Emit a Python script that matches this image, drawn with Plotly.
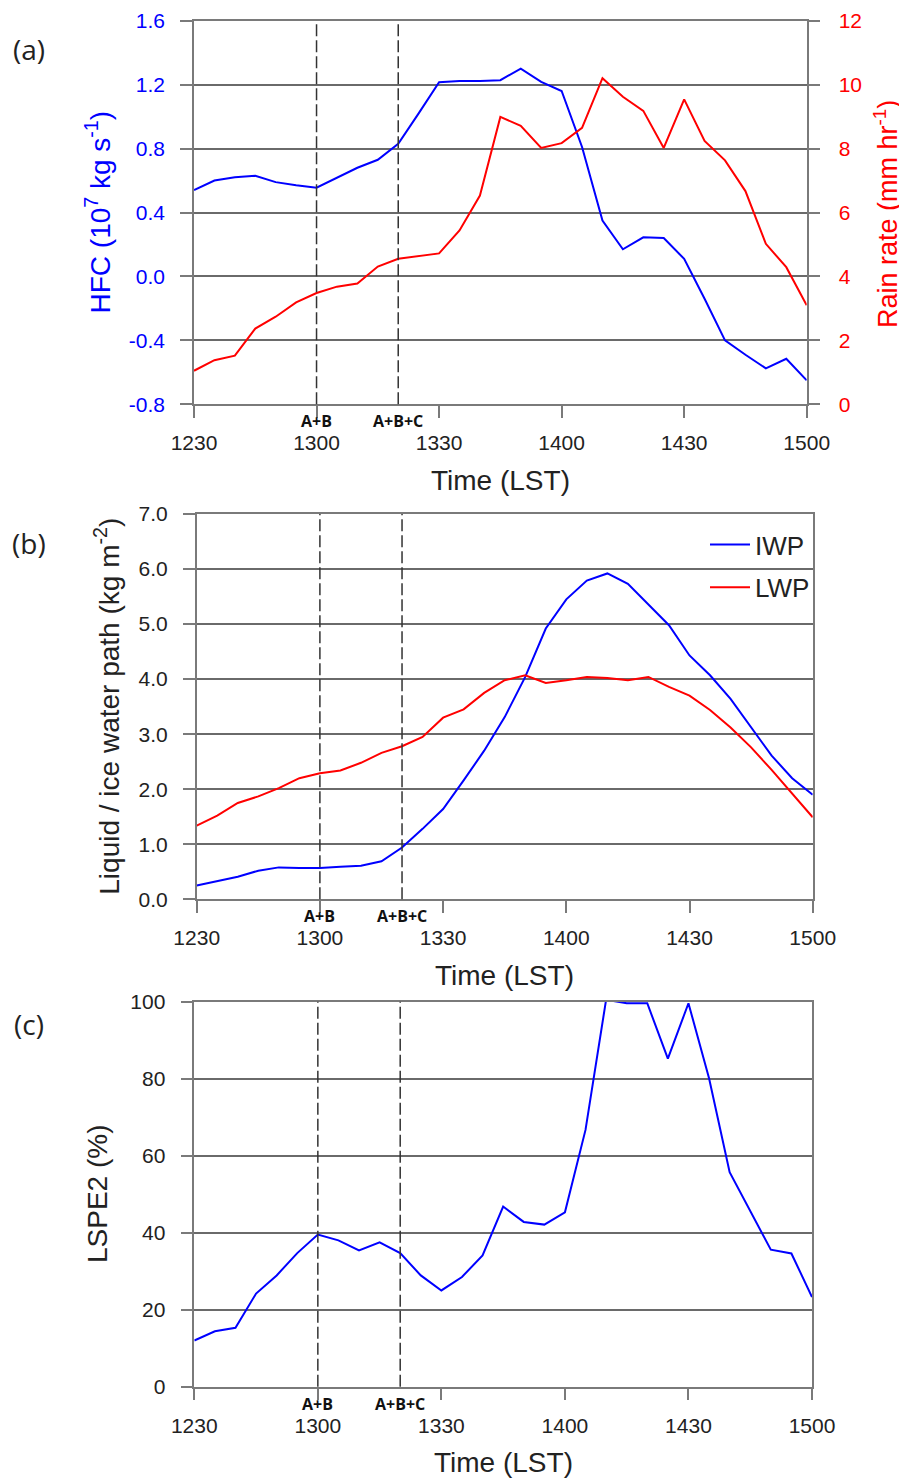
import plotly.graph_objects as go

# ---------------- data ----------------
minutes = [5 * i for i in range(31)]  # minutes after 12:30 LST
time_tickvals = [0, 30, 60, 90, 120, 150]
time_ticktext = ["1230", "1300", "1330", "1400", "1430", "1500"]

hfc = [0.54, 0.60, 0.62, 0.63, 0.59, 0.57, 0.555, 0.615, 0.68, 0.73, 0.83,
       1.02, 1.215, 1.222, 1.222, 1.228, 1.30, 1.217, 1.16, 0.81, 0.35,
       0.17, 0.245, 0.24, 0.11, -0.14, -0.40, -0.49, -0.575, -0.515, -0.65]
rain = [1.05, 1.38, 1.52, 2.37, 2.74, 3.19, 3.48, 3.68, 3.78, 4.31, 4.55,
        4.63, 4.72, 5.44, 6.53, 8.99, 8.71, 8.02, 8.17, 8.65, 10.20,
        9.62, 9.18, 8.02, 9.54, 8.24, 7.63, 6.67, 5.02, 4.29, 3.10]
iwp = [0.25, 0.33, 0.41, 0.52, 0.58, 0.57, 0.57, 0.59, 0.61, 0.69, 0.94,
       1.28, 1.64, 2.16, 2.70, 3.31, 4.04, 4.92, 5.45, 5.79, 5.92,
       5.73, 5.36, 4.98, 4.43, 4.07, 3.64, 3.13, 2.61, 2.20, 1.90]
lwp = [1.34, 1.52, 1.75, 1.87, 2.02, 2.20, 2.29, 2.34, 2.48, 2.66, 2.78,
       2.95, 3.30, 3.45, 3.75, 3.98, 4.07, 3.93, 3.98, 4.04, 4.02,
       3.98, 4.04, 3.86, 3.70, 3.44, 3.12, 2.76, 2.35, 1.93, 1.49]
lspe2 = [12.0, 14.4, 15.3, 24.2, 28.9, 34.7, 39.5, 38.0, 35.4, 37.5, 34.7,
         28.9, 25.0, 28.5, 34.1, 46.8, 42.8, 42.1, 45.3, 66.7, 100.5,
         99.6, 99.6, 85.2, 99.6, 80.1, 55.7, 45.5, 35.6, 34.6, 23.3]

event_times = [30, 50]
event_labels = ["A+B", "A+B+C"]

hfc_ticks = [-0.8, -0.4, 0.0, 0.4, 0.8, 1.2, 1.6]
hfc_ticktext = ["-0.8", "-0.4", "0.0", "0.4", "0.8", "1.2", "1.6"]
rain_ticks = [0, 2, 4, 6, 8, 10, 12]
wp_ticks = [0, 1, 2, 3, 4, 5, 6, 7]
wp_ticktext = ["0.0", "1.0", "2.0", "3.0", "4.0", "5.0", "6.0", "7.0"]
lspe_ticks = [0, 20, 40, 60, 80, 100]

# ---------------- style ----------------
# the page body has an 8px margin, so the figure is 8px smaller than the window
OFF = 8
W, H = 907 - OFF, 1479 - OFF
BLUE = "#0000ff"
RED = "#ff0000"
GRID = "#6a6a6a"
AXC = "#7a7a7a"
FONT = "Liberation Sans, Arial, sans-serif"
TICKF = 21
TITLEF = 28


def px(x):
    return (x - OFF) / W


def py(y):
    return 1 - (y - OFF) / H


fig = go.Figure()

fig.add_trace(go.Scatter(x=minutes, y=hfc, mode="lines", line=dict(color=BLUE, width=2),
                         xaxis="x", yaxis="y", showlegend=False))
fig.add_trace(go.Scatter(x=minutes, y=rain, mode="lines", line=dict(color=RED, width=2),
                         xaxis="x", yaxis="y2", showlegend=False))
fig.add_trace(go.Scatter(x=minutes, y=iwp, mode="lines", line=dict(color=BLUE, width=2),
                         xaxis="x2", yaxis="y3", name="IWP", legendgroup="iwp"))
fig.add_trace(go.Scatter(x=minutes, y=lwp, mode="lines", line=dict(color=RED, width=2),
                         xaxis="x2", yaxis="y3", name="LWP", legendgroup="lwp"))
fig.add_trace(go.Scatter(x=minutes, y=lspe2, mode="lines", line=dict(color=BLUE, width=2),
                         xaxis="x3", yaxis="y4", showlegend=False))

common_x = dict(range=[0, 150], tickvals=time_tickvals, ticktext=time_ticktext, automargin=False,
                showgrid=False, zeroline=False, showline=True, linecolor=AXC, linewidth=1.5,
                mirror=True, ticks="outside", ticklen=12, tickwidth=1.5, tickcolor=AXC,
                tickfont=dict(family=FONT, size=TICKF, color="#222"), ticklabelstandoff=7)
common_y = dict(showgrid=True, gridcolor=GRID, gridwidth=1.5, zeroline=False, showline=True,
                linecolor=AXC, linewidth=1.5, mirror=True, ticks="outside", ticklen=12,
                tickwidth=1.5, tickcolor=AXC, ticklabelstandoff=11, automargin=False,
                tickfont=dict(family=FONT, size=TICKF, color="#222"))

dom_a = dict(x=[px(194), px(806.7)], y=[py(404.3), py(20.7)])
dom_b = dict(x=[px(196.7), px(812.7)], y=[py(899.3), py(514)])
dom_c = dict(x=[px(194.3), px(812)], y=[py(1386.7), py(1001.7)])

ya = dict(common_y)
ya.update(domain=dom_a["y"], anchor="x", range=[-0.8, 1.6], tickvals=hfc_ticks,
          ticktext=hfc_ticktext, tickfont=dict(family=FONT, size=TICKF, color=BLUE))
ya2 = dict(common_y)
ya2.update(overlaying="y", side="right", anchor="x", range=[0, 12], tickvals=rain_ticks,
           showgrid=False, ticklabelstandoff=14, tickfont=dict(family=FONT, size=TICKF, color=RED))
yb = dict(common_y)
yb.update(domain=dom_b["y"], anchor="x2", range=[0, 7], tickvals=wp_ticks, ticktext=wp_ticktext)
yc = dict(common_y)
yc.update(domain=dom_c["y"], anchor="x3", range=[0, 100], tickvals=lspe_ticks)

xa = dict(common_x); xa.update(domain=dom_a["x"], anchor="y")
xb = dict(common_x); xb.update(domain=dom_b["x"], anchor="y3")
xc = dict(common_x); xc.update(domain=dom_c["x"], anchor="y4")

fig.update_layout(xaxis=xa, yaxis=ya, yaxis2=ya2, xaxis2=xb, yaxis3=yb, xaxis3=xc, yaxis4=yc)

shapes = []
annotations = []
for xref, yref in [("x", "y domain"), ("x2", "y3 domain"), ("x3", "y4 domain")]:
    for t, lab in zip(event_times, event_labels):
        shapes.append(dict(type="line", xref=xref, yref=yref, x0=t, x1=t, y0=0, y1=1,
                           line=dict(color="#333333", width=1.5, dash="12px,4px")))
        annotations.append(dict(xref=xref, yref=yref, x=t, y=0, yshift=-17, text="<b>" + lab + "</b>",
                                showarrow=False, yanchor="middle", xanchor="center",
                                font=dict(family="Open Sans, sans-serif", size=16, color="#111")))

# x titles
for dom, ybot in [(dom_a, 404.3), (dom_b, 899.3), (dom_c, 1386.7)]:
    annotations.append(dict(xref="paper", yref="paper", x=(dom["x"][0] + dom["x"][1]) / 2,
                            y=py(ybot + 76), text="Time (LST)", showarrow=False,
                            xanchor="center", yanchor="middle",
                            font=dict(family=FONT, size=TITLEF, color="#222")))

# y titles
annotations.append(dict(xref="paper", yref="paper", x=px(98), y=py(212.5),
                        text="HFC (10<sup>7</sup> kg s<sup>-1</sup>)", textangle=-90, showarrow=False,
                        xanchor="center", yanchor="middle", font=dict(family=FONT, size=TITLEF, color=BLUE)))
annotations.append(dict(xref="paper", yref="paper", x=px(886), y=py(214),
                        text="Rain rate (mm hr<sup>-1</sup>)", textangle=-90, showarrow=False,
                        xanchor="center", yanchor="middle", font=dict(family=FONT, size=27, color=RED)))
annotations.append(dict(xref="paper", yref="paper", x=px(107), y=py(706.7),
                        text="Liquid / ice water path (kg m<sup>-2</sup>)", textangle=-90, showarrow=False,
                        xanchor="center", yanchor="middle", font=dict(family=FONT, size=TITLEF, color="#222")))
annotations.append(dict(xref="paper", yref="paper", x=px(97), y=py(1194),
                        text="LSPE2 (%)", textangle=-90, showarrow=False,
                        xanchor="center", yanchor="middle", font=dict(family=FONT, size=TITLEF, color="#222")))

# panel labels
for lab, yy in [("(a)", 49), ("(b)", 543), ("(c)", 1024)]:
    annotations.append(dict(xref="paper", yref="paper", x=px(29), y=py(yy), text=lab, showarrow=False,
                            xanchor="center", yanchor="middle",
                            font=dict(family="Open Sans, sans-serif", size=28, color="#222")))

fig.update_layout(
    template="none",
    width=W, height=H, margin=dict(l=0, r=0, t=0, b=0, autoexpand=False),
    paper_bgcolor="white", plot_bgcolor="white",
    shapes=shapes, annotations=annotations,
    legend=dict(x=px(815), xanchor="right", y=py(521), yanchor="top",
                font=dict(family=FONT, size=26, color="#222"), bgcolor="rgba(0,0,0,0)",
                tracegroupgap=6, itemwidth=40),
)

fig.write_html("out.html")
